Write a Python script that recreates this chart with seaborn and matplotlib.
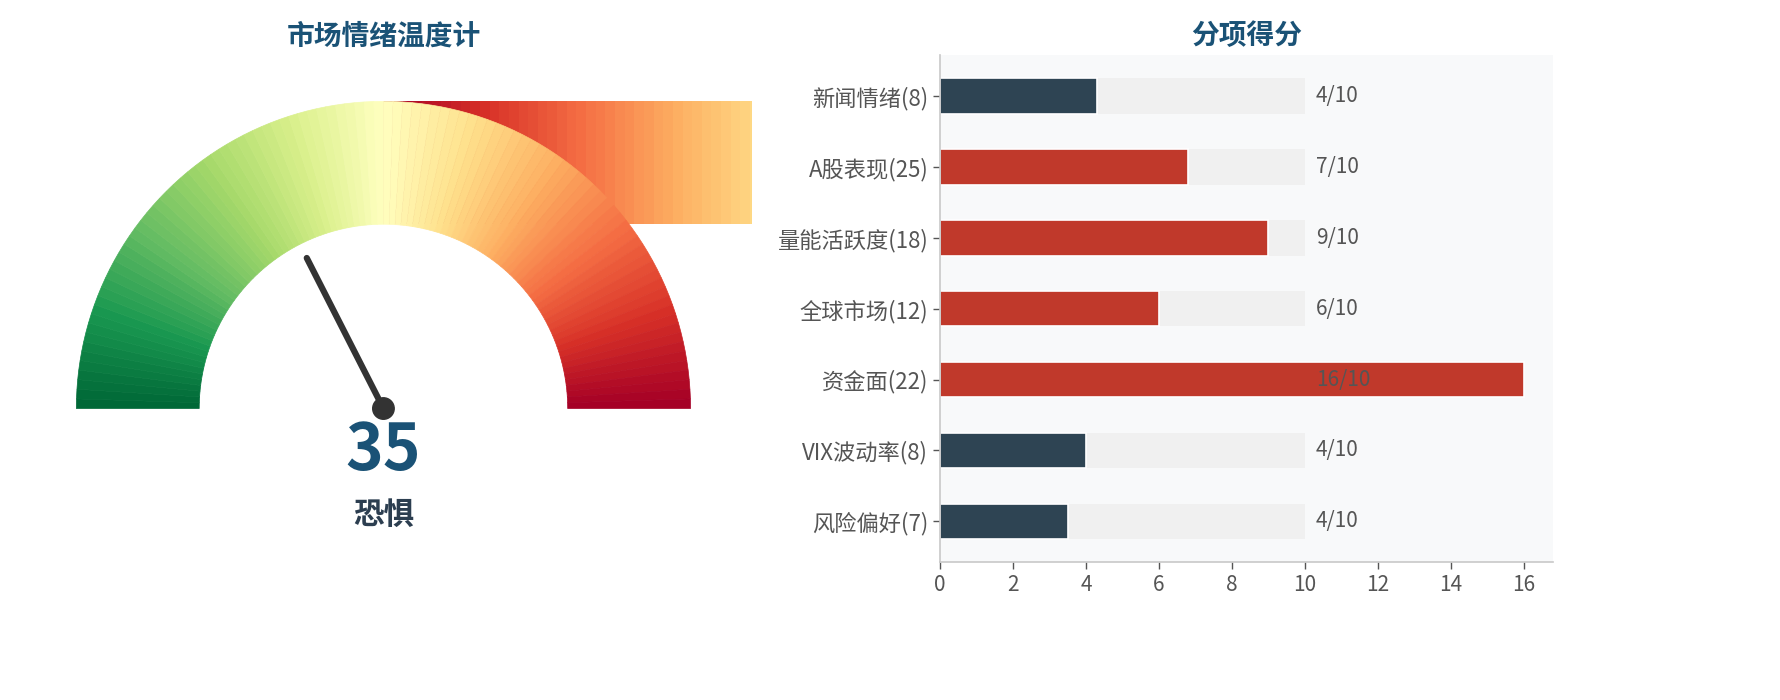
import numpy as np
import matplotlib
matplotlib.use('Agg')
import matplotlib.pyplot as plt
from matplotlib.patches import Wedge, Circle
import seaborn as sns

sns.set_style('white')
plt.rcParams['font.family'] = ['Noto Sans CJK SC', 'DejaVu Sans']
plt.rcParams['axes.unicode_minus'] = False

# 数据
gauge_value = 35
gauge_label = '恐惧'
n_seg = 100

items = ['新闻情绪(8)', 'A股表现(25)', '量能活跃度(18)', '全球市场(12)',
         '资金面(22)', 'VIX波动率(8)', '风险偏好(7)']
scores = [4.3, 6.8, 9.0, 6.0, 16.0, 4.0, 3.5]
score_text = ['4/10', '7/10', '9/10', '6/10', '16/10', '4/10', '4/10']
full_score = [10] * len(items)

title_color = '#1a5276'
red = '#c0392b'
dark = '#2e4453'
bar_colors = [red if s >= 5 else dark for s in scores]

fig = plt.figure(figsize=(17.81, 7), dpi=100)

# ---- 左: 温度计 ----
ax1 = fig.add_axes([0.0084, 0.197, 0.4138, 0.724])
cmap = plt.get_cmap('RdYlGn_r')
theta = np.linspace(np.pi, 0, n_seg + 1)
t = np.linspace(0, 1, n_seg)
cols = cmap(t)
# 背后的一排矩形 (与原图一致)
centers = (theta[:-1] + theta[1:]) / 2
ax1.bar(centers, 0.4, width=np.pi / n_seg, bottom=0.6, color=cols,
        linewidth=0, zorder=1)
for i in range(n_seg):
    a1 = np.degrees(theta[i + 1])
    a2 = np.degrees(theta[i])
    ax1.add_patch(Wedge((0, 0), 1.0, a1, a2, width=0.4,
                        facecolor=cols[i], edgecolor=cols[i], lw=0.5, zorder=2))

ang = np.radians(180 - gauge_value * 1.8)
ax1.plot([0, 0.55 * np.cos(ang)], [0, 0.55 * np.sin(ang)], color='#333333',
         lw=4.5, solid_capstyle='round', zorder=3)
ax1.add_patch(Circle((0, 0), 0.035, color='#333333', zorder=4))
ax1.text(0, -0.14, str(gauge_value), ha='center', va='center', fontsize=46,
         fontweight='bold', color=title_color)
ax1.text(0, -0.345, gauge_label, ha='center', va='center', fontsize=22,
         fontweight='bold', color='#2c3e50')
ax1.set_xlim(-1.2, 1.2)
ax1.set_ylim(-0.5, 1.15)
ax1.axis('off')
ax1.set_title('市场情绪温度计', fontsize=20, fontweight='bold', color=title_color, pad=8)

# ---- 右: 分项得分 ----
ax2 = fig.add_axes([0.5278, 0.197, 0.3442, 0.724])
ax2.set_facecolor('#f8f9fa')
sns.barplot(x=full_score, y=items, orient='h', width=0.5, color='#f0f0f0',
            linewidth=0, ax=ax2, zorder=1)
sns.barplot(x=scores, y=items, hue=items, palette=bar_colors, orient='h',
            width=0.5, edgecolor='white', linewidth=1.2, legend=False,
            ax=ax2, saturation=1, zorder=2)
for i, s in enumerate(score_text):
    ax2.text(10.3, i, s, va='center', ha='left', fontsize=15, color='#555555', zorder=3)

ax2.set_xlim(0, 16.8)
ax2.set_ylim(6.575, -0.575)
ax2.set_xticks(range(0, 17, 2))
ax2.set_xlabel('')
ax2.set_ylabel('')
ax2.tick_params(axis='both', labelsize=15, colors='#555555', length=5, width=1,
                left=True, bottom=True)
ax2.tick_params(axis='y', labelsize=16)
for sp in ['top', 'right']:
    ax2.spines[sp].set_visible(False)
for sp in ['left', 'bottom']:
    ax2.spines[sp].set_color('#c8c8c8')
    ax2.spines[sp].set_linewidth(1.2)
ax2.set_title('分项得分', fontsize=20, fontweight='bold', color=title_color, pad=8)

fig.savefig('out.png', dpi=100)
